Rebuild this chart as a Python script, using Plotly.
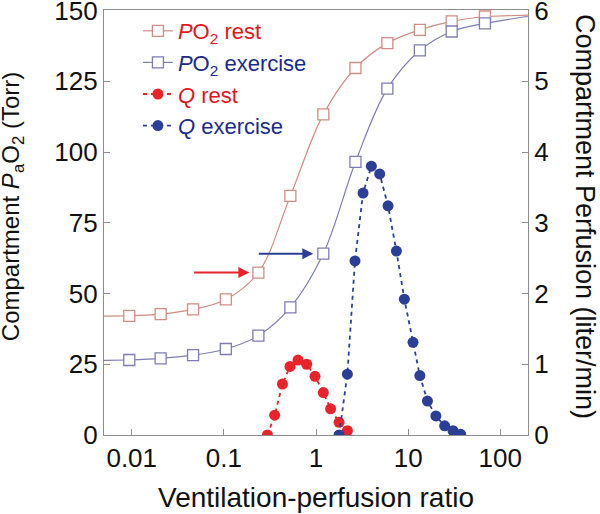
import math
import plotly.graph_objects as go

# ---- data ----
va_ratio = [0.0094, 0.0206, 0.0463, 0.105, 0.237, 0.527, 1.2, 2.68, 5.95, 13.4, 29.7, 68.2]
po2_rest = [42.1, 42.7, 44.4, 47.9, 57.4, 84.5, 113.3, 129.7, 138.5, 143.2, 146.2, 147.9]
po2_exercise = [26.5, 27.1, 28.2, 30.4, 35.1, 45.1, 64.1, 96.5, 122.4, 135.9, 142.6, 145.5]

# curve extension to the plot edges
curve_x_ends = [0.005, 200]
po2_rest_ends = [42.0, 148.4]
po2_exercise_ends = [26.4, 148.0]

q_rest_x = [0.297, 0.356, 0.432, 0.522, 0.638, 0.792, 0.975, 1.20, 1.44, 1.78, 2.19]
q_rest = [0.0, 0.28, 0.72, 0.97, 1.06, 1.00, 0.83, 0.60, 0.37, 0.18, 0.06]

q_ex_x = [1.78, 2.19, 2.65, 3.24, 3.99, 4.91, 6.05, 7.46, 9.10, 11.3, 13.4, 16.2, 20.0, 24.9, 30.7, 37.2]
q_exercise = [0.0, 0.86, 2.46, 3.42, 3.80, 3.69, 3.24, 2.60, 1.92, 1.31, 0.84, 0.48, 0.27, 0.13, 0.06, 0.01]

x_tickvals = [0.01, 0.1, 1, 10, 100]
x_ticktext = ["0.01", "0.1", "1", "10", "100"]
y_tickvals = [0, 25, 50, 75, 100, 125, 150]
y2_tickvals = [0, 1, 2, 3, 4, 5, 6]

# ---- styles ----
C_REST_LINE = "#d38c84"
C_EX_LINE = "#7d7db6"
C_RED = "#e8232a"
C_BLUE = "#2c3f98"
C_RED_TXT = "#e3151d"
C_BLUE_TXT = "#1b2a8c"
AX = "#8c8c8c"
TXT = "#111111"
FONT = "Liberation Sans, Arial, Helvetica, sans-serif"

fig = go.Figure()

# PO2 curve extensions (no legend)
for ys, ends, col in [(po2_rest, po2_rest_ends, C_REST_LINE), (po2_exercise, po2_exercise_ends, C_EX_LINE)]:
    fig.add_trace(go.Scatter(x=[curve_x_ends[0], va_ratio[0]], y=[ends[0], ys[0]], mode="lines",
                             line=dict(color=col, width=1.2), showlegend=False, hoverinfo="skip"))
    fig.add_trace(go.Scatter(x=[va_ratio[-1], curve_x_ends[1]], y=[ys[-1], ends[1]], mode="lines",
                             line=dict(color=col, width=1.2), showlegend=False, hoverinfo="skip"))

fig.add_trace(go.Scatter(
    x=va_ratio, y=po2_rest, mode="lines+markers",
    name=f"<span style='color:{C_RED_TXT}'><i>P</i>O<sub>2</sub> rest</span>",
    line=dict(color=C_REST_LINE, width=1.2, shape="spline"),
    marker=dict(symbol="square", size=11, color="white", line=dict(color=C_REST_LINE, width=1.3)),
))
fig.add_trace(go.Scatter(
    x=va_ratio, y=po2_exercise, mode="lines+markers",
    name=f"<span style='color:{C_BLUE_TXT}'><i>P</i>O<sub>2</sub> exercise</span>",
    line=dict(color=C_EX_LINE, width=1.2, shape="spline"),
    marker=dict(symbol="square", size=11, color="white", line=dict(color=C_EX_LINE, width=1.3)),
))
fig.add_trace(go.Scatter(
    x=q_rest_x, y=q_rest, yaxis="y2", mode="lines+markers",
    name=f"<span style='color:{C_RED_TXT}'><i>Q</i> rest</span>",
    line=dict(color=C_RED, width=1.8, dash="4px,4px"),
    marker=dict(symbol="circle", size=11, color=C_RED),
))
fig.add_trace(go.Scatter(
    x=q_ex_x, y=q_exercise, yaxis="y2", mode="lines+markers",
    name=f"<span style='color:{C_BLUE_TXT}'><i>Q</i> exercise</span>",
    line=dict(color=C_BLUE, width=1.8, dash="4px,4px"),
    marker=dict(symbol="circle", size=11, color=C_BLUE),
))

# arrows pointing to specific squares
fig.add_annotation(x=math.log10(va_ratio[4]), y=po2_rest[4], xref="x", yref="y",
                   ax=-66, ay=0, showarrow=True, arrowhead=2, arrowsize=1.1, arrowwidth=2,
                   arrowcolor=C_RED, standoff=9, text="")
fig.add_annotation(x=math.log10(va_ratio[6]), y=po2_exercise[6], xref="x", yref="y",
                   ax=-66, ay=0, showarrow=True, arrowhead=2, arrowsize=1.1, arrowwidth=2,
                   arrowcolor=C_BLUE, standoff=10, text="")

# axis titles as annotations (precise placement)
fig.add_annotation(x=-0.216, y=0.537, xref="paper", yref="paper", xanchor="center", yanchor="middle",
                   text="Compartment <i>P</i><sub>a</sub>O<sub>2</sub> (Torr)", textangle=-90,
                   showarrow=False, font=dict(size=24, color=TXT, family=FONT))
fig.add_annotation(x=1.135, y=0.515, xref="paper", yref="paper", xanchor="center", yanchor="middle",
                   text="Compartment Perfusion (liter/min)", textangle=90, showarrow=False,
                   font=dict(size=27, color=TXT, family=FONT))
fig.add_annotation(x=0.5, y=-0.148, xref="paper", yref="paper", xanchor="center", yanchor="middle",
                   text="Ventilation-perfusion ratio", showarrow=False,
                   font=dict(size=28, color=TXT, family=FONT))

fig.update_layout(
    width=600, height=514,
    margin=dict(l=104, r=72, t=10, b=79, autoexpand=False),
    paper_bgcolor="white", plot_bgcolor="white",
    font=dict(family=FONT, size=26, color=TXT),
    showlegend=True,
    legend=dict(x=0.08, y=1.0, xanchor="left", yanchor="top", bgcolor="rgba(0,0,0,0)",
                font=dict(size=22, family=FONT), tracegroupgap=0, itemwidth=30),
    xaxis=dict(type="log", range=[math.log10(0.005), math.log10(200)],
               tickvals=x_tickvals, ticktext=x_ticktext, automargin=False,
               ticklabeloverflow="allow",
               ticks="inside", ticklen=6, tickcolor=AX, tickwidth=1.2,
               showline=True, linecolor=AX, linewidth=1.3, mirror=True,
               showgrid=False, zeroline=False),
    yaxis=dict(range=[0, 150.2], tickvals=y_tickvals, automargin=False,
               ticklabeloverflow="allow",
               ticks="inside", ticklen=6, tickcolor=AX, tickwidth=1.2,
               showline=True, linecolor=AX, linewidth=1.3, mirror=True,
               showgrid=False, zeroline=False),
    yaxis2=dict(range=[0, 6.008], tickvals=y2_tickvals, overlaying="y", side="right",
                automargin=False, ticklabeloverflow="allow",
                ticks="inside", ticklen=6, tickcolor=AX, tickwidth=1.2,
                showline=True, linecolor=AX, linewidth=1.3,
                showgrid=False, zeroline=False),
)

fig.write_html("out.html", config={"displayModeBar": False},
               post_script="document.body.style.margin='0px';")
